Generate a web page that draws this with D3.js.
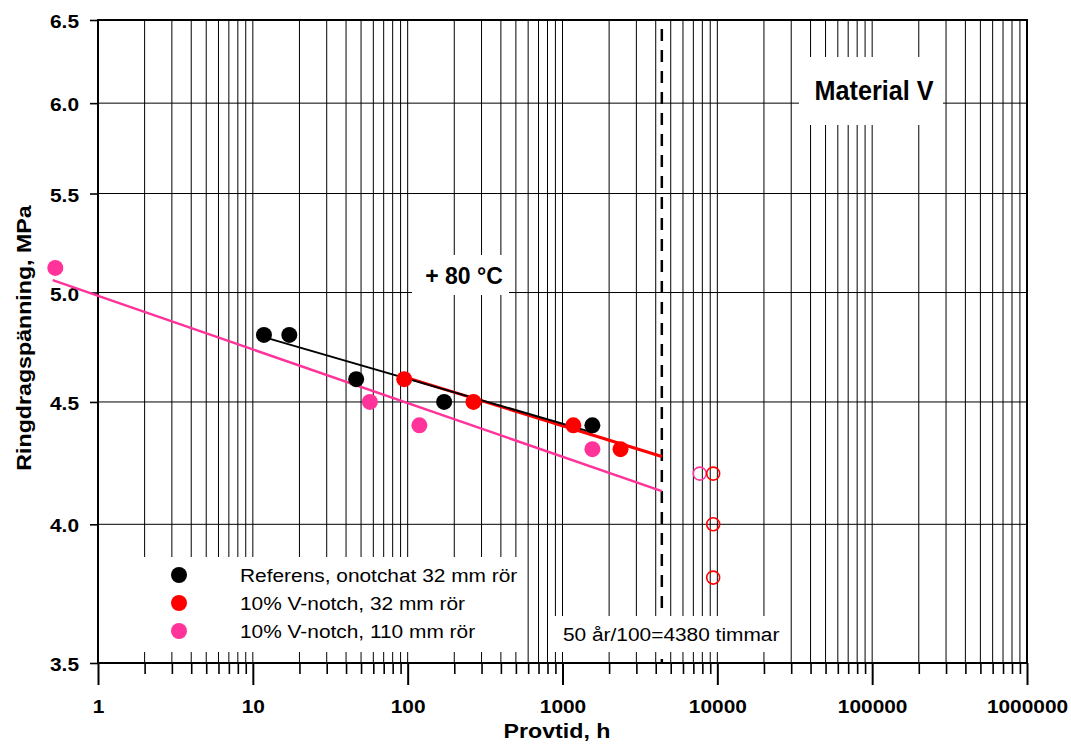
<!DOCTYPE html>
<html><head><meta charset="utf-8">
<script src="https://cdn.jsdelivr.net/npm/d3@7"></script>
<style>
body{margin:0;background:#fff}
svg{display:block}
text{font-family:"Liberation Sans",Arial,Helvetica,sans-serif;fill:#000}
</style>
</head><body>
<svg id="chart" width="1071" height="745"></svg>
<script>
// ---- data ----
const xTickValues = [1, 10, 100, 1000, 10000, 100000, 1000000];
const xTickLabels = ["1", "10", "100", "1000", "10000", "100000", "1000000"];
const yTickValues = [3.5, 4.0, 4.5, 5.0, 5.5, 6.0, 6.5];
const yTickLabels = ["3.5", "4.0", "4.5", "5.0", "5.5", "6.0", "6.5"];
const seriesNames = ["Referens, onotchat 32 mm rör", "10% V-notch, 32 mm rör", "10% V-notch, 110 mm rör"];
const seriesColors = ["#000000", "#ff0000", "#ff3399"];

const refX = [11.8, 17.2, 46.5, 172, 1560];
const refY = [4.8, 4.8, 4.6, 4.5, 4.4];
const v32X = [95, 266, 1175, 2370];
const v32Y = [4.6, 4.5, 4.4, 4.3];
const v110X = [0.53, 57, 119, 1560];
const v110Y = [5.12, 4.5, 4.4, 4.3];
// running (not failed) specimens, open circles
const v32OpenX = [9400, 9400, 9400];
const v32OpenY = [4.2, 4.0, 3.8];
const v110OpenX = [7700];
const v110OpenY = [4.2];
// regression lines (end points)
const refFitX = [11.8, 1560];
const refFitY = [4.79, 4.37];
const v32FitX = [95, 4380];
const v32FitY = [4.61, 4.27];
const v110FitX = [0.51, 4380];
const v110FitY = [5.06, 4.13];

const limitHours = 4380;
const limitLabel = "50 år/100=4380 timmar";
const tempLabel = "+ 80 °C";
const materialLabel = "Material V";
const xTitle = "Provtid, h";
const yTitle = "Ringdragspänning, MPa";

// ---- layout ----
const svg = d3.select("#chart");
const L = 98, R = 1027, T = 20, B = 663;
const sx = d3.scaleLog().domain([1, 1e6]).range([L, R]);
const sy = d3.scaleLog().domain([3.5, 6.5]).range([B, T]);
const STR = 1.16;

const minorX = [];
for (let k = 0; k < 6; k++) for (let m = 2; m <= 9; m++) minorX.push(m * Math.pow(10, k));
const allX = xTickValues.concat(minorX);

// grid
const grid = svg.append("g");
grid.selectAll("line.v").data(allX).join("line")
  .attr("x1", d => sx(d)).attr("x2", d => sx(d))
  .attr("y1", T).attr("y2", B)
  .attr("stroke", "#000").attr("stroke-width", 1);
grid.selectAll("line.h").data(yTickValues).join("line")
  .attr("x1", L).attr("x2", R)
  .attr("y1", d => sy(d)).attr("y2", d => sy(d))
  .attr("stroke", "#000").attr("stroke-width", 1);

// dashed limit line
svg.append("line")
  .attr("x1", sx(limitHours)).attr("x2", sx(limitHours))
  .attr("y1", T).attr("y2", B)
  .attr("stroke", "#000").attr("stroke-width", 2.5)
  .attr("stroke-dasharray", "12,9").attr("stroke-dashoffset", 12);

// white boxes
const boxes = [
  [130, 557, 392, 95],   // legend
  [551, 616, 234, 36],   // limit label
  [799, 57, 144, 68],    // material
  [412, 255, 97, 40]     // temperature
];
svg.selectAll("rect.box").data(boxes).join("rect")
  .attr("x", d => d[0]).attr("y", d => d[1]).attr("width", d => d[2]).attr("height", d => d[3])
  .attr("fill", "#fff");

// frame
svg.append("rect").attr("x", L).attr("y", T).attr("width", R - L).attr("height", B - T)
  .attr("fill", "none").attr("stroke", "#000").attr("stroke-width", 2);

// axes
const xAxis = d3.axisBottom(sx).tickValues(xTickValues)
  .tickFormat((d, i) => xTickLabels[i]).tickSize(22).tickSizeOuter(0);
const gx = svg.append("g").attr("transform", `translate(0,${B})`).call(xAxis);
gx.select(".domain").remove();
gx.selectAll(".tick line").attr("stroke", "#000").attr("stroke-width", 2);
gx.selectAll(".tick text").attr("y", 0).attr("dy", 0)
  .attr("transform", `translate(0,50) scale(${STR},1)`)
  .style("font-size", "18px").style("font-weight", "bold")
  .style("font-family", "'Liberation Sans',Arial,sans-serif").attr("fill", "#000");

const xMinor = d3.axisBottom(sx).tickValues(minorX).tickFormat("").tickSize(11).tickSizeOuter(0);
const gxm = svg.append("g").attr("transform", `translate(0,${B})`).call(xMinor);
gxm.select(".domain").remove();
gxm.selectAll(".tick line").attr("stroke", "#000").attr("stroke-width", 1.6);

const yAxis = d3.axisLeft(sy).tickValues(yTickValues)
  .tickFormat((d, i) => yTickLabels[i]).tickSize(8).tickSizeOuter(0);
const gy = svg.append("g").attr("transform", `translate(${L},0)`).call(yAxis);
gy.select(".domain").remove();
gy.selectAll(".tick line").attr("stroke", "#000").attr("stroke-width", 1.6);
gy.selectAll(".tick text").attr("x", 0).attr("dy", 0)
  .attr("transform", `translate(-19,7.5) scale(${STR},1)`)
  .attr("text-anchor", "end")
  .style("font-size", "18px").style("font-weight", "bold")
  .style("font-family", "'Liberation Sans',Arial,sans-serif").attr("fill", "#000");

// axis titles
svg.append("text").attr("transform", `translate(557,738) scale(${STR},1)`)
  .attr("text-anchor", "middle").style("font-size", "20px").style("font-weight", "bold").text(xTitle);
svg.append("text").attr("transform", `translate(31,338) rotate(-90) scale(${STR},1)`)
  .attr("text-anchor", "middle").style("font-size", "20px").style("font-weight", "bold").text(yTitle);

// annotations
svg.append("text").attr("transform", `translate(874,100) scale(0.9,1)`)
  .attr("text-anchor", "middle").style("font-size", "28px").style("font-weight", "bold").text(materialLabel);
svg.append("text").attr("transform", `translate(464,284)`)
  .attr("text-anchor", "middle").style("font-size", "23px").style("font-weight", "bold").text(tempLabel);
svg.append("text").attr("transform", `translate(563,641) scale(${STR},1)`)
  .style("font-size", "18px").text(limitLabel);

// regression lines
const line = d3.line().x(d => sx(d[0])).y(d => sy(d[1]));
const fits = [
  {x: v110FitX, y: v110FitY, c: seriesColors[2], w: 2.5},
  {x: v32FitX, y: v32FitY, c: seriesColors[1], w: 3},
  {x: refFitX, y: refFitY, c: seriesColors[0], w: 2}
];
fits.forEach(f => {
  svg.append("path").datum(f.x.map((v, i) => [v, f.y[i]]))
    .attr("d", line).attr("fill", "none").attr("stroke", f.c).attr("stroke-width", f.w);
});

// points
function dots(xs, ys, color) {
  svg.append("g").selectAll("circle").data(xs.map((v, i) => [v, ys[i]])).join("circle")
    .attr("cx", d => sx(d[0])).attr("cy", d => sy(d[1])).attr("r", 8).attr("fill", color);
}
function openDots(xs, ys, color) {
  svg.append("g").selectAll("circle").data(xs.map((v, i) => [v, ys[i]])).join("circle")
    .attr("cx", d => sx(d[0])).attr("cy", d => sy(d[1])).attr("r", 6.5)
    .attr("fill", "none").attr("stroke", color).attr("stroke-width", 1.6);
}
dots(v110X, v110Y, seriesColors[2]);
dots(refX, refY, seriesColors[0]);
dots(v32X, v32Y, seriesColors[1]);
openDots(v110OpenX, v110OpenY, seriesColors[2]);
openDots(v32OpenX, v32OpenY, seriesColors[1]);

// legend
const lg = svg.append("g");
seriesNames.forEach((n, i) => {
  const yy = 575 + i * 28;
  lg.append("circle").attr("cx", 179).attr("cy", yy).attr("r", 8).attr("fill", seriesColors[i]);
  lg.append("text").attr("transform", `translate(240,${yy + 6.5}) scale(${STR},1)`)
    .style("font-size", "18px").text(n);
});
</script>
</body></html>
